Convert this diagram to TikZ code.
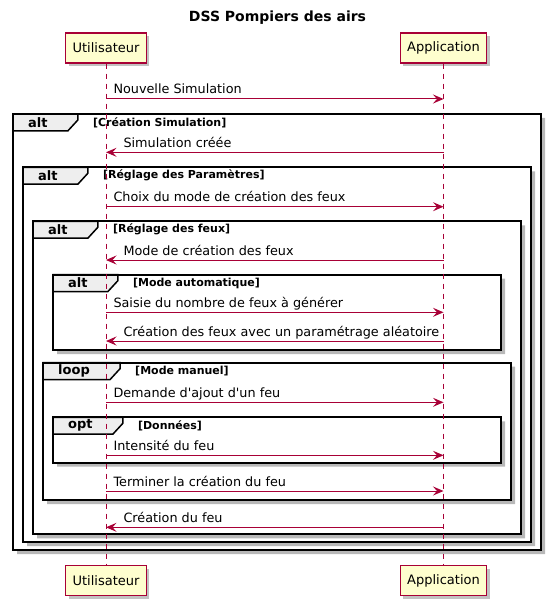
\documentclass[tikz,border=0pt]{standalone}
\usepackage{fontspec}
\setmainfont{DejaVu Sans}
\newfontfamily\umlfont{DejaVu Sans}
\usetikzlibrary{positioning}
\usetikzlibrary{calc}
\usetikzlibrary{arrows.meta}
\usetikzlibrary{shadows}
\usetikzlibrary{backgrounds}
\definecolor{umlred}{HTML}{A80036}
\definecolor{umlyellow}{HTML}{FEFECE}
\definecolor{tabgray}{HTML}{EEEEEE}
\tikzset{actor/.style={draw=umlred, fill=umlyellow, line width=1.2pt, minimum height=30pt, inner xsep=7pt, font=\fontsize{13}{15}\selectfont, drop shadow={shadow xshift=3pt, shadow yshift=-3pt, fill=black!40, opacity=0.6}}}
\tikzset{life/.style={draw=umlred, line width=0.9pt, dash pattern=on 5pt off 5pt}}
\tikzset{msg/.style={draw=umlred, line width=1pt, -{Stealth[length=10.5pt, width=9pt, inset=4pt]}}}
\tikzset{lbl/.style={anchor=base west, inner sep=0pt, yshift=5pt, font=\umlfont\fontsize{12.8}{15}\selectfont}}
\tikzset{lblr/.style={lbl, xshift=7pt}}
\tikzset{lbll/.style={lbl, xshift=17pt}}
\tikzset{grpframe/.style={draw=black, line width=2pt}}
\tikzset{grpshadow/.style={fill=black!28}}
\tikzset{grptab/.style={draw=black, fill=tabgray, line width=1.5pt}}
\tikzset{grpkw/.style={anchor=north west, inner xsep=0pt, inner ysep=0pt, minimum height=16.5pt, font=\bfseries\fontsize{13}{15}\selectfont, execute at begin node={\hspace*{15pt}}, execute at end node={\hspace*{30pt}}}}
\tikzset{grpcond/.style={anchor=west, inner sep=0pt, font=\bfseries\fontsize{11}{13}\selectfont}}

% combined fragment: name, top left, bottom right, keyword, guard
\newcommand{\umlgroup}[5]{%
\coordinate (#1-nw) at (#2);
\coordinate (#1-se) at (#3);
\fill[grpshadow] ($(#1-se |- #1-nw)+(0,4)$) -- ++(4,0) -- ($(#1-se)+(4,4)$)
 -- ($(#1-nw |- #1-se)+(4,4)$) -- ++(0,-4) -- (#1-se) -- cycle;
\draw[grpframe] (#1-nw) rectangle (#1-se);
\node[grpkw] (#1-kw) at (#1-nw) {#4};
\begin{scope}[on background layer]
\draw[grptab] (#1-kw.north west) -- (#1-kw.north east) -- ++(0,6)
 -- ($(#1-kw.south east)+(-10,0)$) -- (#1-kw.south west) -- cycle;
\end{scope}
\node[grpcond] (#1-cond) at ($(#1-kw.east)+(15,0)$) {[#5]};
}

\begin{document}
\begin{tikzpicture}[x=1pt, y=-1pt]
\useasboundingbox (0,0) rectangle (551,607);

\node[font=\bfseries\fontsize{14}{16}\selectfont] (title) at (277.5,18) {DSS Pompiers des airs};

%%% Fragments:

\umlgroup{creation}{13,114}{541,550}{alt}{Création Simulation}
\umlgroup{param}{23,167.3}{531,542}{alt}{Réglage des Paramètres}
\umlgroup{feux}{33,221.3}{521,534.3}{alt}{Réglage des feux}
\umlgroup{auto}{53,274.7}{501,350}{alt}{Mode automatique}
\umlgroup{manuel}{43,362.7}{511,500}{loop}{Mode manuel}
\umlgroup{donnees}{53,417.3}{501,462.7}{opt}{Données}

%%% Participants:

\node[actor] (ut) at (106,48) {Utilisateur};
\node[actor] (ap) at (443.5,48) {Application};
\node[actor] (ub) at (106,580.5) {Utilisateur};
\node[actor] (ab) at (443.5,580.5) {Application};

\draw[life] (ut) -- (ub);
\draw[life] (ap) -- (ab);

%%% Messages:

\draw[msg] (ut |- 0,99) -- (ap |- 0,99) node[lblr, pos=0] (m1) {Nouvelle Simulation};
\draw[msg] (ap |- 0,152.3) -- (ut |- 0,152.3) node[lbll, pos=1] (m2) {Simulation créée};
\draw[msg] (ut |- 0,206.7) -- (ap |- 0,206.7) node[lblr, pos=0] (m3) {Choix du mode de création des feux};
\draw[msg] (ap |- 0,260) -- (ut |- 0,260) node[lbll, pos=1] (m4) {Mode de création des feux};
\draw[msg] (ut |- 0,312.3) -- (ap |- 0,312.3) node[lblr, pos=0] (m5) {Saisie du nombre de feux à générer};
\draw[msg] (ap |- 0,341) -- (ut |- 0,341) node[lbll, pos=1] (m6) {Création des feux avec un paramétrage aléatoire};
\draw[msg] (ut |- 0,402.3) -- (ap |- 0,402.3) node[lblr, pos=0] (m7) {Demande d'ajout d'un feu};
\draw[msg] (ut |- 0,455.3) -- (ap |- 0,455.3) node[lblr, pos=0] (m8) {Intensité du feu};
\draw[msg] (ut |- 0,491) -- (ap |- 0,491) node[lblr, pos=0] (m9) {Terminer la création du feu};
\draw[msg] (ap |- 0,527.3) -- (ut |- 0,527.3) node[lbll, pos=1] (m10) {Création du feu};

\end{tikzpicture}
\end{document}
